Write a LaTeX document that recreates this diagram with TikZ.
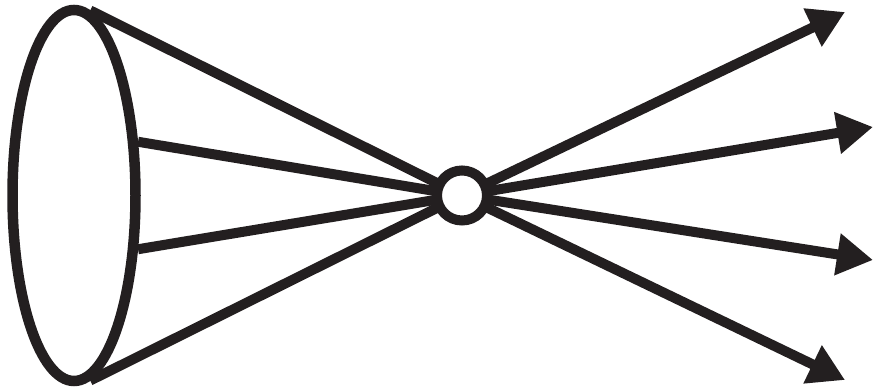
\documentclass[tikz,border=0pt]{standalone}
\usetikzlibrary{shapes.geometric,arrows.meta}
\definecolor{ink}{RGB}{35,31,32}
\begin{document}
\begin{tikzpicture}[x=1pt,y=1pt,
  stroke/.style={draw=ink,line width=10pt},
  ray/.style={stroke,-{Triangle[length=36pt,width=40pt]}}]
\useasboundingbox (0,0) rectangle (875,390);
\node[ellipse,draw=ink,line width=10.5pt,minimum width=123pt,minimum height=371pt,inner sep=0pt] (E) at (74,194.5) {};
\node[circle,minimum size=50pt,inner sep=0pt,outer sep=0pt] (C) at (462,194.5) {};
\coordinate (T1) at (845,378);
\coordinate (T2) at (873,263);
\coordinate (T3) at (873,130);
\coordinate (T4) at (845,10);
\draw[stroke] (E.85) -- (C.center);
\draw[stroke] (E.40) -- (C.center);
\draw[stroke] (E.-40) -- (C.center);
\draw[stroke] (E.-85) -- (C.center);
\draw[ray] (C.center) -- (T1);
\draw[ray] (C.center) -- (T2);
\draw[ray] (C.center) -- (T3);
\draw[ray] (C.center) -- (T4);
\node[circle,draw=ink,fill=white,line width=10pt,minimum size=50pt,inner sep=0pt] at (C.center) {};
\end{tikzpicture}
\end{document}
